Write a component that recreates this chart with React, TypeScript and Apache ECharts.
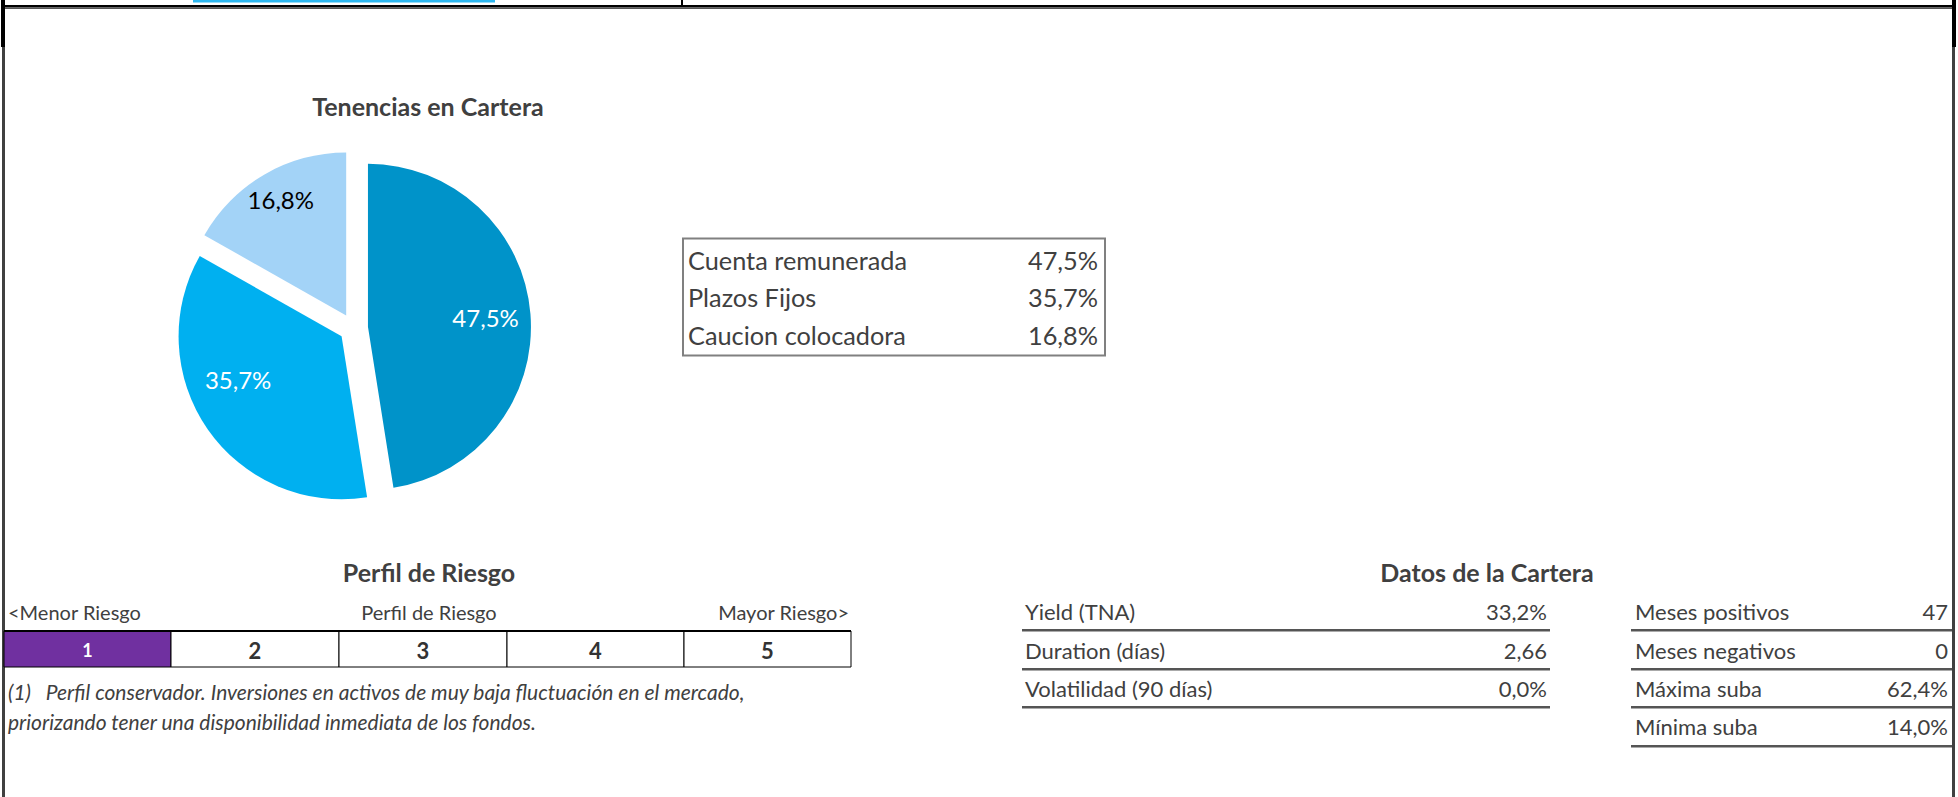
import React, { useEffect, useRef } from "react";
import * as echarts from "echarts";

// ---- data ----
const chartTitle = "Tenencias en Cartera";
const sliceNames = ["Cuenta remunerada", "Plazos Fijos", "Caucion colocadora"];
const sliceValues = [47.5, 35.7, 16.8];
const sliceColors = ["#0093C9", "#00B0F0", "#A3D3F7"];
const sliceLabelColors = ["#ffffff", "#ffffff", "#000000"];

const riskTitle = "Perfil de Riesgo";
const riskScaleLabels = ["<Menor Riesgo", "Perfil de Riesgo", "Mayor Riesgo>"];
const riskLevels = ["1", "2", "3", "4", "5"];
const selectedRisk = 1;
const riskNote = [
  "(1)   Perfil conservador. Inversiones en activos de muy baja fluctuación en el mercado,",
  "priorizando tener una disponibilidad inmediata de los fondos.",
];

const datosTitle = "Datos de la Cartera";
const datosLeftLabels = ["Yield (TNA)", "Duration (días)", "Volatilidad (90 días)"];
const datosLeftValues = ["33,2%", "2,66", "0,0%"];
const datosRightLabels = ["Meses positivos", "Meses negativos", "Máxima suba", "Mínima suba"];
const datosRightValues = ["47", "0", "62,4%", "14,0%"];

const FONT = "Lato, 'Open Sans', sans-serif";
const TXT = "#404040";

const fmtPct = (v: number) => v.toFixed(1).replace(".", ",") + "%";

function txt(text: string, x: number, y: number, size: number, opts: any = {}) {
  return {
    type: "text",
    silent: true,
    style: {
      text,
      x,
      y,
      fill: opts.fill || TXT,
      fontSize: size,
      fontFamily: FONT,
      fontWeight: opts.bold ? "bold" : "normal",
      fontStyle: opts.italic ? "italic" : "normal",
      align: opts.align || "left",
      verticalAlign: "middle",
    },
  };
}
function rect(x: number, y: number, w: number, h: number, fill: string, stroke?: string, lw = 0) {
  return {
    type: "rect",
    silent: true,
    shape: { x, y, width: w, height: h },
    style: { fill, stroke: stroke || null, lineWidth: lw },
  };
}
function line(x1: number, y1: number, x2: number, y2: number, stroke: string, lw: number) {
  return {
    type: "line",
    silent: true,
    shape: { x1, y1, x2, y2 },
    style: { stroke, lineWidth: lw },
  };
}

export default function App() {
  const ref = useRef<HTMLDivElement>(null);
  useEffect(() => {
    if (!ref.current) return;
    const chart = echarts.init(ref.current, null, { renderer: "svg" });

    const g: any[] = [];
    // frame
    g.push(rect(193, 0, 302, 2.5, "#2DB7F0"));
    g.push(rect(681, 0, 2, 6, "#000"));
    g.push(rect(2, 5, 1954, 2.5, "#000"));
    g.push(rect(2, 7.5, 1954, 1.5, "#555"));
    g.push(rect(1, 0, 4, 47, "#000"));
    g.push(rect(2, 47, 3, 750, "#404040"));
    g.push(rect(1952, 0, 4, 47, "#000"));
    g.push(rect(1952, 47, 3, 750, "#404040"));

    // title
    g.push(txt(chartTitle, 428, 106, 25, { bold: true, align: "center" }));

    // holdings table
    g.push(rect(683, 238.5, 422, 117, "#fff", "#808080", 2));
    sliceNames.forEach((n, i) => {
      g.push(txt(n, 688, 259.5 + i * 37.5, 25.3));
      g.push(txt(fmtPct(sliceValues[i]), 1098, 259.5 + i * 37.5, 25.3, { align: "right" }));
    });

    // risk profile
    g.push(txt(riskTitle, 429, 572, 25, { bold: true, align: "center" }));
    g.push(txt(riskScaleLabels[0], 8, 612, 20));
    g.push(txt(riskScaleLabels[1], 429, 612, 20, { align: "center" }));
    g.push(txt(riskScaleLabels[2], 849, 612, 20, { align: "right" }));
    const cols = [4, 171, 339, 507, 684, 851];
    riskLevels.forEach((lv, i) => {
      const sel = i + 1 === selectedRisk;
      g.push(rect(cols[i], 631, cols[i + 1] - cols[i], 36, sel ? "#7030A0" : "#fff", "#000", 1));
      g.push(
        txt(lv, (cols[i] + cols[i + 1]) / 2, 650, sel ? 18 : 22, {
          bold: true,
          align: "center",
          fill: sel ? "#fff" : "#333",
        })
      );
    });
    g.push(line(4, 631, 851, 631, "#000", 2));
    g.push(txt(riskNote[0], 8, 691, 21, { italic: true }));
    g.push(txt(riskNote[1], 8, 721, 21, { italic: true }));

    // datos
    g.push(txt(datosTitle, 1487, 572, 25, { bold: true, align: "center" }));
    const rowY = [611, 650, 688, 726];
    const lineY = [630, 669, 707, 746];
    datosLeftLabels.forEach((l, i) => {
      g.push(txt(l, 1025, rowY[i], 22));
      g.push(txt(datosLeftValues[i], 1547, rowY[i], 22, { align: "right" }));
      g.push(line(1022, lineY[i], 1550, lineY[i], "#555", 2));
      g.push(line(1022, lineY[i] + 1.5, 1550, lineY[i] + 1.5, "#aaa", 1));
    });
    datosRightLabels.forEach((l, i) => {
      g.push(txt(l, 1635, rowY[i], 22));
      g.push(txt(datosRightValues[i], 1948, rowY[i], 22, { align: "right" }));
      g.push(line(1631, lineY[i], 1952, lineY[i], "#555", 2));
      g.push(line(1631, lineY[i] + 1.5, 1952, lineY[i] + 1.5, "#aaa", 1));
    });

    const pieData = sliceNames.map((n, i) => ({
      name: n,
      value: sliceValues[i],
      selected: true,
      itemStyle: { color: sliceColors[i] },
    }));
    // label nudges (Excel places labels slightly off the mid-angle)
    const labelPadRight = [0, 13, 12];
    const labelExtraLines = ["", "\n\n", "\n"];
    const labelLineHeight = [24, 24, 28];
    const labelData = sliceNames.map((n, i) => ({
      name: n,
      value: sliceValues[i],
      selected: true,
      itemStyle: { color: "rgba(0,0,0,0)", borderWidth: 0 },
      label: {
        color: sliceLabelColors[i],
        padding: [0, labelPadRight[i], 0, 0],
        lineHeight: labelLineHeight[i],
        formatter: (p: any) => fmtPct(p.value) + labelExtraLines[i],
      },
    }));

    chart.setOption({
      animation: false,
      backgroundColor: "#ffffff",
      series: [
        {
          type: "pie",
          center: [353.5, 328],
          radius: 163,
          startAngle: 90,
          clockwise: true,
          selectedMode: "multiple",
          selectedOffset: 14.5,
          silent: true,
          label: { show: false },
          labelLine: { show: false },
          emphasis: { disabled: true },
          data: pieData,
        },
        {
          type: "pie",
          center: [353.5, 328],
          radius: [0, 230],
          startAngle: 90,
          clockwise: true,
          selectedMode: "multiple",
          selectedOffset: 14.5,
          silent: true,
          z: 3,
          label: {
            show: true,
            position: "inside",
            fontFamily: FONT,
            fontSize: 24,
          },
          labelLine: { show: false },
          emphasis: { disabled: true },
          data: labelData,
        },
      ],
      graphic: { elements: g },
    });
    return () => chart.dispose();
  }, []);
  return (
    <div
      ref={ref}
      style={{ position: "absolute", left: 0, top: 0, width: 1958, height: 797, background: "#fff" }}
    />
  );
}
